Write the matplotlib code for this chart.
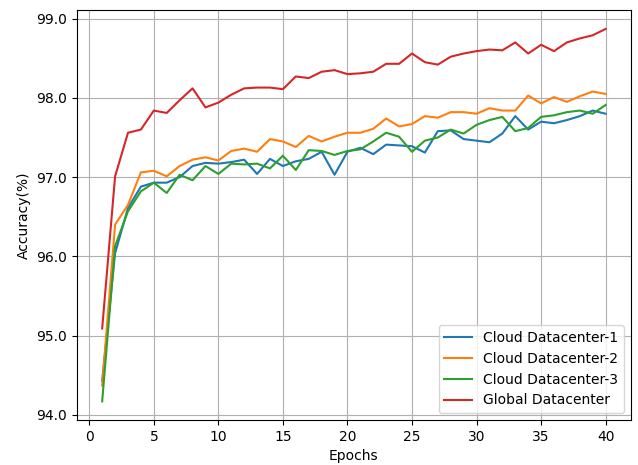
import matplotlib
matplotlib.use("Agg")
import matplotlib.pyplot as plt
from matplotlib.ticker import FormatStrFormatter


epochs = list(range(1, 41))

dc1 = [94.43, 96.04, 96.61, 96.88, 96.93, 96.93, 97.00, 97.14, 97.18, 97.17,
       97.19, 97.22, 97.04, 97.23, 97.14, 97.20, 97.23, 97.32, 97.03, 97.32,
       97.37, 97.29, 97.41, 97.40, 97.39, 97.31, 97.58, 97.59, 97.48, 97.46,
       97.44, 97.55, 97.77, 97.60, 97.70, 97.68, 97.72, 97.77, 97.84, 97.80]

dc2 = [94.37, 96.40, 96.65, 97.06, 97.08, 97.01, 97.14, 97.22, 97.25, 97.21,
       97.33, 97.36, 97.32, 97.48, 97.45, 97.38, 97.52, 97.45, 97.51, 97.56,
       97.56, 97.61, 97.74, 97.64, 97.67, 97.77, 97.75, 97.82, 97.82, 97.80,
       97.87, 97.84, 97.84, 98.03, 97.93, 98.01, 97.95, 98.02, 98.08, 98.05]

dc3 = [94.17, 96.13, 96.57, 96.82, 96.93, 96.80, 97.03, 96.96, 97.14, 97.04,
       97.17, 97.16, 97.17, 97.11, 97.27, 97.09, 97.34, 97.33, 97.28, 97.33,
       97.35, 97.45, 97.56, 97.51, 97.32, 97.46, 97.50, 97.60, 97.55, 97.66,
       97.72, 97.76, 97.58, 97.62, 97.76, 97.78, 97.82, 97.84, 97.80, 97.91]

global_dc = [95.09, 97.01, 97.56, 97.60, 97.84, 97.81, 97.97, 98.12, 97.88, 97.94,
             98.04, 98.12, 98.13, 98.13, 98.11, 98.27, 98.25, 98.33, 98.35, 98.30,
             98.31, 98.33, 98.43, 98.43, 98.56, 98.45, 98.42, 98.52, 98.56, 98.59,
             98.61, 98.60, 98.70, 98.56, 98.67, 98.59, 98.70, 98.75, 98.79, 98.87]

fig = plt.figure(figsize=(6.38, 4.65), dpi=100)
ax = fig.add_axes([0.1207, 0.0968, 0.868, 0.881])

ax.plot(epochs, dc1, color="#1f77b4", label="Cloud Datacenter-1")
ax.plot(epochs, dc2, color="#ff7f0e", label="Cloud Datacenter-2")
ax.plot(epochs, dc3, color="#2ca02c", label="Cloud Datacenter-3")
ax.plot(epochs, global_dc, color="#d62728", label="Global Datacenter")

ax.yaxis.set_major_formatter(FormatStrFormatter("%.1f"))
ax.set_xlabel("Epochs")
ax.set_ylabel("Accuracy(%)")
ax.grid(True)
ax.legend(loc="lower right")

plt.savefig("out.png", dpi=100)
plt.close()
